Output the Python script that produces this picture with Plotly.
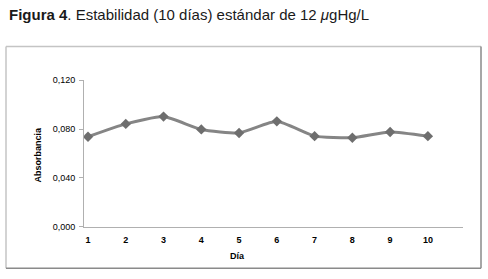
import plotly.graph_objects as go

W, H = 488, 279

dias = [1, 2, 3, 4, 5, 6, 7, 8, 9, 10]
absorbancia = [0.0737, 0.0842, 0.0902, 0.0797, 0.0768, 0.0863, 0.0742, 0.0729, 0.0776, 0.0742]
y_ticks = [0.0, 0.04, 0.08, 0.12]
x_tick_labels = [str(d) for d in dias]

def px(x):
    return x / W

def py(y):
    return 1 - y / H

fig = go.Figure()
fig.add_trace(go.Scatter(
    x=dias, y=absorbancia, mode="lines+markers",
    line=dict(color="#858585", width=3, shape="spline", smoothing=0.5),
    marker=dict(symbol="diamond", size=8, color="#6e6e6e"),
    showlegend=False, hoverinfo="skip",
))

fig.update_layout(
    width=W, height=H,
    margin=dict(l=0, r=0, t=0, b=0),
    paper_bgcolor="white", plot_bgcolor="white",
    separators=",.",
    font=dict(family="Liberation Sans, Arial, sans-serif", color="#000000"),
    xaxis=dict(
        domain=[px(84), px(463)],
        range=[0.894, 10.93],
        tickmode="array", tickvals=dias, ticktext=x_tick_labels,
        tickfont=dict(size=9, family="Liberation Sans, Arial", weight="bold"),
        showgrid=False, zeroline=False,
        showline=True, linecolor="#b0b0b0", linewidth=1,
        ticks="", ticklabelstandoff=4,
    ),
    yaxis=dict(
        domain=[py(230), py(78)],
        range=[0, 0.12],
        tickmode="array", tickvals=y_ticks, tickformat=".3f",
        tickfont=dict(size=9, family="Liberation Sans, Arial"),
        showgrid=False, zeroline=False,
        showline=True, linecolor="#b0b0b0", linewidth=1,
        ticks="outside", ticklen=4, tickcolor="#b0b0b0",
        ticklabelstandoff=2,
    ),
)

# axis titles
fig.add_annotation(
    text="<b>Día</b>", x=px(237), y=py(260), xref="paper", yref="paper",
    showarrow=False, font=dict(size=9, family="Liberation Sans, Arial"),
    xanchor="center", yanchor="middle",
)
fig.add_annotation(
    text="<b>Absorbancia</b>", x=px(38), y=py(155), xref="paper", yref="paper",
    showarrow=False, textangle=-90, font=dict(size=9, family="Liberation Sans, Arial"),
    xanchor="center", yanchor="middle",
)

# figure caption
fig.add_annotation(
    text="<b>Figura 4</b>. Estabilidad (10 días) estándar de 12 <i>μ</i>gHg/L",
    x=px(7), y=py(10), xref="paper", yref="paper", showarrow=False,
    font=dict(size=15, family="Liberation Sans Narrow, Arial Narrow, Liberation Sans, sans-serif", color="#1a1a1a"),
    xanchor="left", yanchor="middle",
)

# frame
for (x0, y0, x1, y1, c) in [
    (6, 43, 481, 43, "#c4c4c4"),
    (6, 43, 6, 273, "#c4c4c4"),
    (481, 43, 481, 273, "#8a8a8a"),
    (6, 273, 481, 273, "#8a8a8a"),
]:
    fig.add_shape(type="line", xref="paper", yref="paper",
                  x0=px(x0), y0=py(y0), x1=px(x1), y1=py(y1),
                  line=dict(color=c, width=1.5))

fig.write_html(
    "out.html",
    config={"displayModeBar": False, "responsive": False},
    post_script="document.body.style.margin='0';document.body.style.padding='0';document.body.style.overflow='hidden';",
)
